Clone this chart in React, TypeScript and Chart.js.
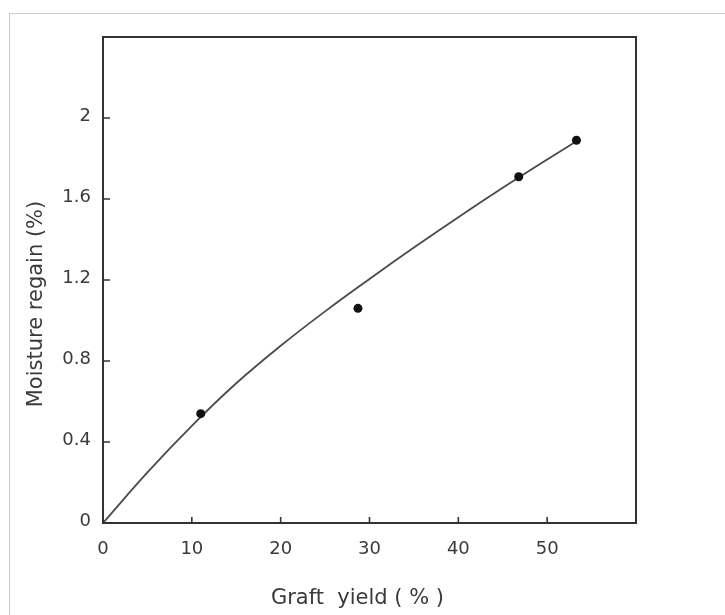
import React, { useEffect, useRef } from 'react';
import { Chart, registerables } from 'chart.js';

Chart.register(...registerables);

// Measured points
const graftYield = [11.0, 28.7, 46.8, 53.3];
const moistureRegain = [0.54, 1.06, 1.71, 1.89];

// Fitted curve
const curveX = [0, 5, 10, 15, 20, 25, 30, 35, 40, 45, 50, 53.3];
const curveY = [0, 0.25, 0.48, 0.69, 0.875, 1.045, 1.205, 1.36, 1.51, 1.655, 1.795, 1.885];

// Axis ticks
const xTickValues = [0, 10, 20, 30, 40, 50, 60];
const xTickLabels = ['0', '10', '20', '30', '40', '50', ''];
const yTickValues = [0, 0.4, 0.8, 1.2, 1.6, 2, 2.4];
const yTickLabels = ['0', '0.4', '0.8', '1.2', '1.6', '2', ''];

const xTitle = 'Graft  yield ( % )';
const yTitle = 'Moisture regain (%)';

const INK = '#333333';
const FONT = "'DejaVu Sans', sans-serif";

const framePlugin = {
  id: 'frameAndTitles',
  afterDraw(chart: any) {
    const { ctx, chartArea: a, scales } = chart;
    const xs = scales.x;
    const ys = scales.y;
    ctx.save();
    ctx.strokeStyle = INK;
    ctx.lineWidth = 2;
    ctx.strokeRect(a.left, a.top, a.right - a.left, a.bottom - a.top);
    ctx.lineWidth = 1.6;
    ctx.beginPath();
    xTickValues.slice(1, -1).forEach((v) => {
      const px = xs.getPixelForValue(v);
      ctx.moveTo(px, a.bottom);
      ctx.lineTo(px, a.bottom - 6);
    });
    yTickValues.slice(1, -1).forEach((v) => {
      const py = ys.getPixelForValue(v);
      ctx.moveTo(a.left, py);
      ctx.lineTo(a.left + 7, py);
    });
    ctx.stroke();

    ctx.fillStyle = '#3a3a3a';
    ctx.font = `21px ${FONT}`;
    ctx.textAlign = 'center';
    ctx.textBaseline = 'middle';
    ctx.fillText(xTitle, (a.left + a.right) / 2 - 12, a.bottom + 76);
    ctx.translate(a.left - 66, (a.top + a.bottom) / 2 + 24);
    ctx.rotate(-Math.PI / 2);
    ctx.fillText(yTitle, 0, 0);
    ctx.restore();
  },
};

export default function App() {
  const ref = useRef<HTMLCanvasElement | null>(null);

  useEffect(() => {
    if (!ref.current) return;
    const chart = new Chart(ref.current, {
      type: 'scatter',
      data: {
        datasets: [
          {
            type: 'scatter',
            label: 'Measured',
            data: graftYield.map((x, i) => ({ x, y: moistureRegain[i] })),
            pointRadius: 4.5,
            pointBackgroundColor: '#111111',
            pointBorderColor: '#111111',
            pointBorderWidth: 0,
            order: 0,
          },
          {
            type: 'line',
            label: 'Fit',
            data: curveX.map((x, i) => ({ x, y: curveY[i] })),
            borderColor: '#4a4a4a',
            borderWidth: 1.8,
            pointRadius: 0,
            fill: false,
            tension: 0.4,
            order: 1,
          } as any,
        ],
      },
      options: {
        animation: false,
        responsive: false,
        layout: { padding: { top: 37, right: 89, left: 0, bottom: 0 } },
        plugins: {
          legend: { display: false },
          tooltip: { enabled: false },
        },
        scales: {
          x: {
            type: 'linear',
            min: 0,
            max: 60,
            grid: { display: false, drawTicks: false },
            border: { display: false },
            afterBuildTicks: (s: any) => {
              s.ticks = xTickValues.map((v) => ({ value: v }));
            },
            afterFit: (s: any) => {
              s.height = 92;
            },
            ticks: {
              padding: 16,
              color: '#3a3a3a',
              font: { family: FONT, size: 18 },
              maxRotation: 0,
              autoSkip: false,
              callback: (v: any) => xTickLabels[xTickValues.indexOf(Number(v))] ?? '',
            },
          },
          y: {
            type: 'linear',
            min: 0,
            max: 2.4,
            grid: { display: false, drawTicks: false },
            border: { display: false },
            afterBuildTicks: (s: any) => {
              s.ticks = yTickValues.map((v) => ({ value: v }));
            },
            afterFit: (s: any) => {
              s.width = 103;
            },
            ticks: {
              padding: 12,
              labelOffset: -2,
              color: '#3a3a3a',
              font: { family: FONT, size: 18 },
              autoSkip: false,
              callback: (v: any) => {
                const i = yTickValues.findIndex((t) => Math.abs(t - Number(v)) < 1e-6);
                return i >= 0 ? yTickLabels[i] : '';
              },
            },
          },
        },
      },
      plugins: [framePlugin],
    });
    return () => chart.destroy();
  }, []);

  return (
    <div
      style={{
        position: 'fixed',
        left: 0,
        top: 0,
        width: 725,
        height: 615,
        overflow: 'hidden',
        background: '#ffffff',
      }}
    >
      <div
        style={{
          position: 'absolute',
          left: 9,
          top: 13,
          width: 740,
          height: 640,
          border: '1px solid #cccccc',
        }}
      />
      <canvas
        ref={ref}
        width={725}
        height={615}
        style={{ position: 'absolute', left: 0, top: 0, width: 725, height: 615 }}
      />
    </div>
  );
}
